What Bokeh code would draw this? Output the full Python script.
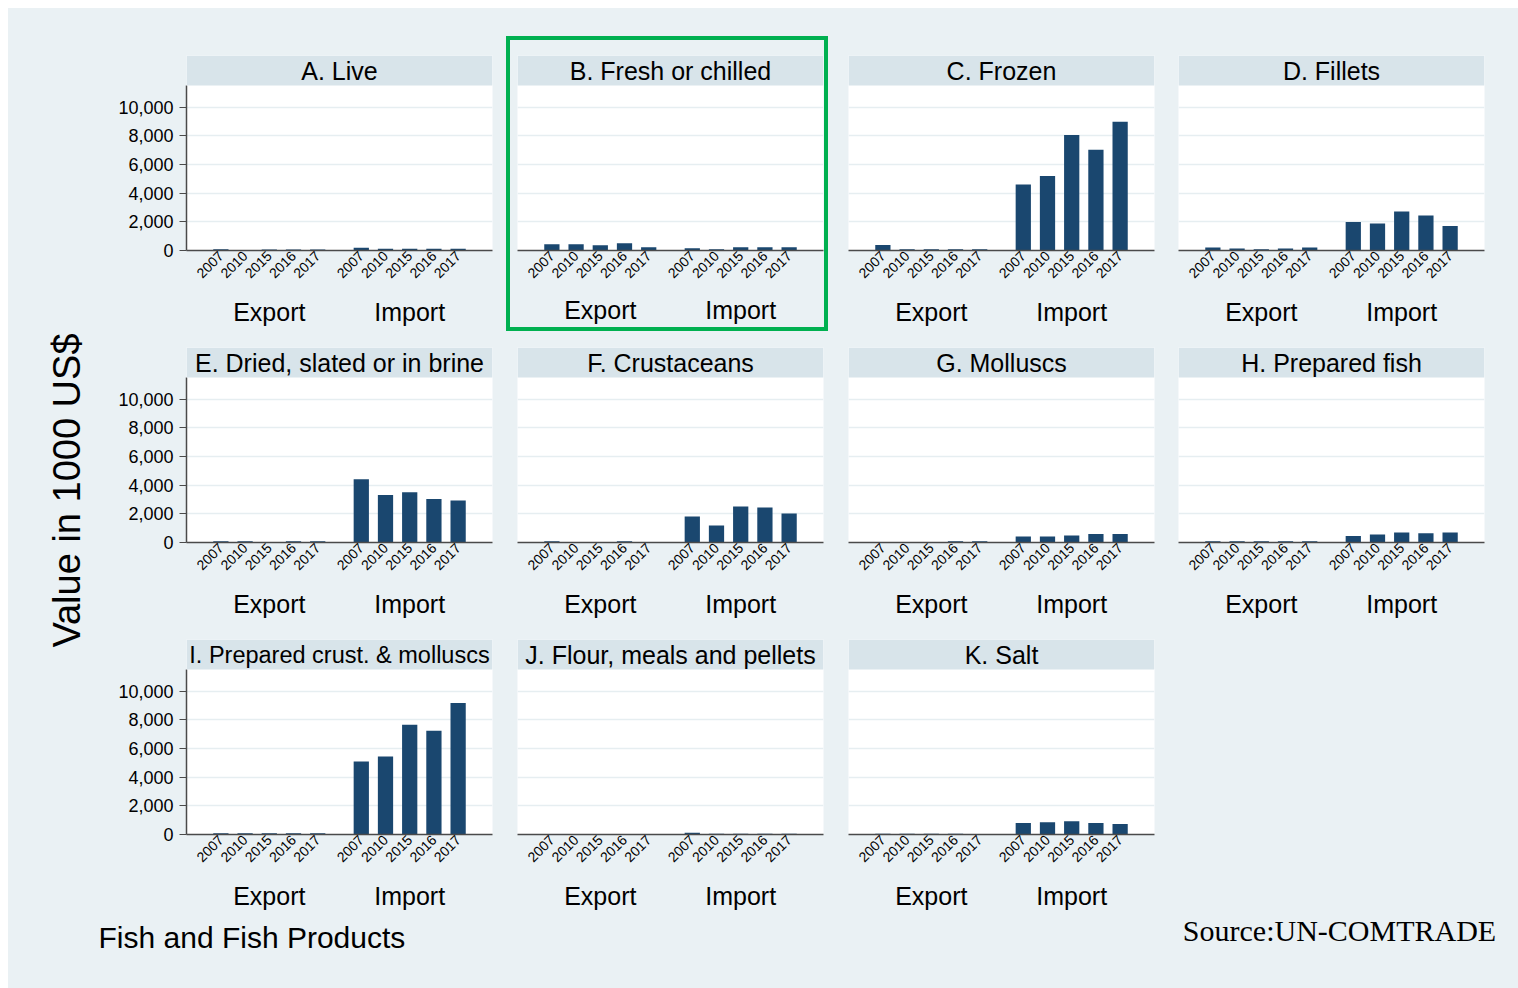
import math
from bokeh.plotting import figure
from bokeh.models import (FactorRange, Range1d, BoxAnnotation, Label, Spacer,
                          NumeralTickFormatter, FixedTicker, ColumnDataSource)
from bokeh.layouts import row, column
from bokeh.embed import file_html
from bokeh.resources import INLINE

# ---------------- data (1000 US$) ----------------
groups = ["Export", "Import"]
years = ["2007", "2010", "2015", "2016", "2017"]
y_ticks = [0, 2000, 4000, 6000, 8000, 10000]

titles = ["A. Live", "B. Fresh or chilled", "C. Frozen", "D. Fillets",
          "E. Dried, slated or in brine", "F. Crustaceans", "G. Molluscs",
          "H. Prepared fish", "I. Prepared crust. & molluscs",
          "J. Flour, meals and pellets", "K. Salt"]

live_export = [90, 0, 70, 70, 70]
live_import = [200, 130, 130, 130, 120]
fresh_export = [440, 440, 370, 510, 230]
fresh_import = [160, 90, 230, 230, 230]
frozen_export = [390, 90, 90, 90, 90]
frozen_import = [4600, 5190, 8050, 7020, 8980]
fillets_export = [210, 140, 90, 140, 210]
fillets_import = [1980, 1880, 2720, 2440, 1700]
dried_export = [90, 90, 0, 90, 90]
dried_import = [4400, 3310, 3500, 3030, 2920]
crust_export = [90, 0, 0, 90, 0]
crust_import = [1810, 1190, 2510, 2440, 2020]
moll_export = [0, 0, 0, 90, 90]
moll_import = [420, 420, 490, 600, 600]
prepfish_export = [90, 90, 90, 90, 90]
prepfish_import = [460, 560, 690, 650, 690]
prepcrust_export = [80, 80, 80, 80, 80]
prepcrust_import = [5090, 5440, 7650, 7230, 9160]
flour_export = [0, 0, 0, 0, 0]
flour_import = [120, 50, 50, 50, 50]
salt_export = [60, 60, 60, 60, 0]
salt_import = [810, 860, 930, 810, 740]

series = [(live_export, live_import), (fresh_export, fresh_import),
          (frozen_export, frozen_import), (fillets_export, fillets_import),
          (dried_export, dried_import), (crust_export, crust_import),
          (moll_export, moll_import), (prepfish_export, prepfish_import),
          (prepcrust_export, prepcrust_import), (flour_export, flour_import),
          (salt_export, salt_import)]

# ---------------- style ----------------
BG = "#EAF1F4"
STRIP = "#D8E4EA"
GRID = "#E6EEF1"
BAR = "#1A476F"
AXIS = "#4A4A4A"
GREEN = "#00B050"
FONT = "Liberation Sans"
BGSTYLE = {"background-color": BG}

FRAME_W = 306
FRAME_H = 195
Y_PLOT = 11500
Y_TOP = Y_PLOT * FRAME_H / 165.0
GP = 0.8
RP = 0.92
SPACER = " "   # blank middle axis level: only adds room above Export/Import

# (left, right, top, bottom) borders of every panel
borders = [(76, 14, 47, 90), (7, 1, 15, 77), (20, 12, 47, 90), (12, 34, 47, 90),
           (76, 12, 7, 90), (13, 13, 7, 90), (12, 12, 7, 90), (12, 34, 7, 90),
           (76, 12, 7, 78), (13, 13, 7, 78), (12, 12, 7, 78)]


def panel(idx, title, exp_vals, imp_vals):
    L, R, T, B = borders[idx]
    c = idx % 4
    factors = [(g, SPACER, y) for g in groups for y in years]
    xr = FactorRange(factors=factors, group_padding=GP, subgroup_padding=0,
                     factor_padding=0, range_padding=RP,
                     range_padding_units="absolute")
    p = figure(x_range=xr, y_range=Range1d(0, Y_TOP),
               width=L + FRAME_W + R, height=T + FRAME_H + B,
               output_backend="svg", toolbar_location=None,
               min_border_left=L, min_border_right=R,
               min_border_top=T, min_border_bottom=B)
    p.background_fill_color = "white"
    p.border_fill_color = BG
    p.outline_line_color = None

    src = ColumnDataSource(dict(x=factors, v=list(exp_vals) + list(imp_vals)))
    p.vbar(x="x", top="v", width=0.63, source=src, fill_color=BAR, line_color=None)

    p.add_layout(BoxAnnotation(bottom=Y_PLOT, fill_color=STRIP, fill_alpha=1.0,
                               line_color=None))
    tsize = "23.5px" if len(title) > 28 else "25px"
    p.add_layout(Label(x=(len(factors) + GP) / 2.0, y=(Y_PLOT + Y_TOP) / 2.0,
                       text=title, text_align="center", text_baseline="middle",
                       text_font=FONT, text_font_size=tsize, text_color="black"))

    ya = p.yaxis[0]
    ya.ticker = FixedTicker(ticks=y_ticks)
    ya.formatter = NumeralTickFormatter(format="0,0")
    ya.bounds = (0, Y_PLOT)
    ya.major_tick_out = 7
    ya.major_tick_in = 0
    ya.minor_tick_line_color = None
    ya.major_tick_line_color = AXIS
    ya.axis_line_color = AXIS
    ya.axis_line_width = 1.5
    ya.major_label_standoff = 6
    ya.major_label_text_font = FONT
    ya.major_label_text_font_size = "18px"
    ya.major_label_text_color = "black"
    if c != 0:
        ya.visible = False

    p.ygrid.ticker = FixedTicker(ticks=y_ticks)
    p.ygrid.grid_line_color = GRID
    p.ygrid.grid_line_width = 1.5
    p.xgrid.grid_line_color = None

    xa = p.xaxis[0]
    xa.major_label_orientation = math.pi / 4
    xa.major_label_text_font = FONT
    xa.major_label_text_font_size = "14px"
    xa.major_label_text_color = "black"
    xa.major_tick_line_color = None
    xa.major_tick_out = 0
    xa.minor_tick_line_color = None
    xa.major_label_standoff = 3
    xa.subgroup_text_font_size = "1px" if idx == 1 else "3px"
    xa.subgroup_text_color = BG
    xa.group_text_font = FONT
    xa.group_text_font_size = "25px"
    xa.group_text_font_style = "normal"
    xa.group_text_color = "black"
    xa.separator_line_color = None
    xa.axis_line_color = AXIS
    xa.axis_line_width = 1.5
    return p


def blank(w, h):
    p = figure(width=w, height=h, x_range=Range1d(0, w), y_range=Range1d(0, h),
               output_backend="svg", toolbar_location=None, min_border=0,
               x_axis_location=None, y_axis_location=None)
    p.grid.visible = False
    p.outline_line_color = None
    p.background_fill_color = BG
    p.border_fill_color = BG
    return p


panels = [panel(i, titles[i], e, m) for i, (e, m) in enumerate(series)]

# green highlight frame around panel B, built from plain coloured layout boxes
pb = panels[1]
LW = 4
gstyle = {"background-color": GREEN}
boxed_b = row(Spacer(width=LW, height=pb.height + 2 * LW, styles=gstyle),
              column(Spacer(width=pb.width, height=LW, styles=gstyle), pb,
                     Spacer(width=pb.width, height=LW, styles=gstyle)),
              Spacer(width=LW, height=pb.height + 2 * LW, styles=gstyle))
row0_h = panels[0].height
b_block = column(Spacer(width=pb.width + 2 * LW, height=28, styles=BGSTYLE), boxed_b,
                 Spacer(width=pb.width + 2 * LW,
                        height=row0_h - 28 - pb.height - 2 * LW, styles=BGSTYLE),
                 styles=BGSTYLE)

filler = blank(panels[7].width, panels[8].height)

rows = [row(panels[0], b_block, panels[2], panels[3], styles=BGSTYLE),
        row(*panels[4:8], styles=BGSTYLE),
        row(*(panels[8:11] + [filler]), styles=BGSTYLE)]
grid = column(*rows, styles=BGSTYLE)

left_h = row0_h + panels[4].height + panels[8].height
left = blank(102, left_h)
left.add_layout(Label(x=58, y=left_h - 482, text="Value in 1000 US$", angle=math.pi / 2,
                      text_align="center", text_baseline="middle",
                      text_font=FONT, text_font_size="38px", text_color="black"))

total_w = 102 + sum(p.width for p in panels[4:8])
bottom_h = 76
bottom = blank(total_w, bottom_h)
bottom.add_layout(Label(x=90, y=bottom_h - 25, text="Fish and Fish Products",
                        text_align="left", text_baseline="middle",
                        text_font=FONT, text_font_size="30px", text_color="black"))
bottom.add_layout(Label(x=1331, y=bottom_h - 18, text="Source:UN-COMTRADE",
                        text_align="center", text_baseline="middle",
                        text_font="Liberation Serif", text_font_size="30px",
                        text_color="black"))

root = column(row(left, grid, styles=BGSTYLE), bottom, styles=BGSTYLE,
              margin=(8, 0, 0, 8))

open("out.html", "w").write(file_html(root, INLINE))
